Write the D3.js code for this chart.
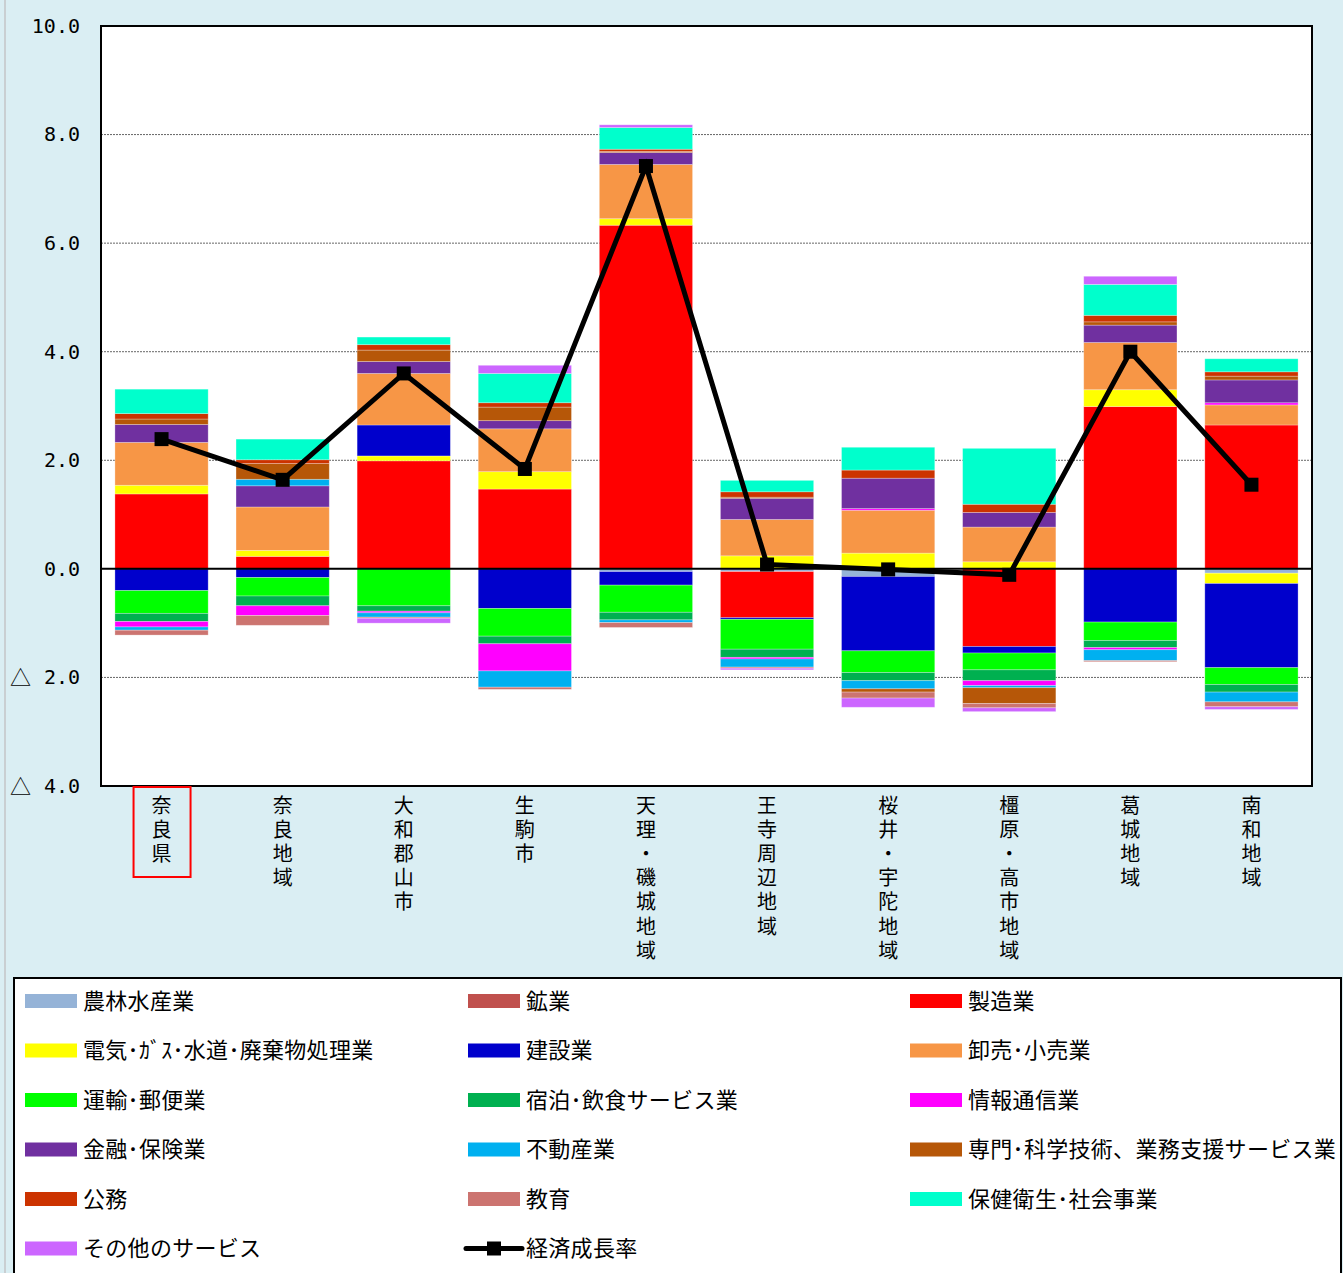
<!DOCTYPE html>
<html>
<head>
<meta charset="utf-8">
<script src="https://cdn.jsdelivr.net/npm/d3@7"></script>
<style>
  html, body { margin: 0; padding: 0; background: #DAEEF3; }
  svg { display: block; }
  .vlabel { writing-mode: vertical-rl; text-orientation: upright; }
</style>
</head>
<body>
<svg id="chart" width="1343" height="1273"></svg>
<script>
// 地域
const regions = ["奈良県", "奈良地域", "大和郡山市", "生駒市", "天理・磯城地域",
  "王寺周辺地域", "桜井・宇陀地域", "橿原・高市地域", "葛城地域", "南和地域"];

// 産業別寄与度（%）
const industries = ["農林水産業", "鉱業", "製造業", "電気･ｶﾞｽ･水道･廃棄物処理業", "建設業",
  "卸売･小売業", "運輸･郵便業", "宿泊･飲食サービス業", "情報通信業", "金融･保険業",
  "不動産業", "専門･科学技術、業務支援サービス業", "公務", "教育", "保健衛生･社会事業",
  "その他のサービス"];

const agriculture   = [0, 0, 0, 0, -0.05, -0.05, -0.14, 0, 0, -0.08];
const mining        = [0, 0, 0, 0, 0, 0, 0, 0, 0, 0];
const manufacturing = [1.38, 0.23, 1.99, 1.47, 6.33, -0.85, 0, -1.43, 2.99, 2.65];
const utilities     = [0.16, 0.11, 0.09, 0.32, 0.12, 0.24, 0.29, 0.13, 0.31, -0.19];
const construction  = [-0.40, -0.16, 0.57, -0.73, -0.25, -0.03, -1.37, -0.12, -0.98, -1.55];
const trade         = [0.79, 0.80, 0.95, 0.79, 1.00, 0.67, 0.79, 0.64, 0.87, 0.37];
const transport     = [-0.42, -0.34, -0.68, -0.51, -0.50, -0.55, -0.40, -0.31, -0.34, -0.31];
const hospitality   = [-0.15, -0.18, -0.10, -0.14, -0.14, -0.15, -0.15, -0.20, -0.13, -0.14];
const information   = [-0.10, -0.18, -0.03, -0.50, 0, -0.03, 0.03, -0.09, -0.04, 0.04];
const finance       = [0.33, 0.39, 0.22, 0.15, 0.22, 0.39, 0.56, 0.27, 0.32, 0.42];
const realEstate    = [-0.06, 0.12, -0.08, -0.30, -0.05, -0.15, -0.15, -0.04, -0.20, -0.18];
const professional  = [0.10, 0.29, 0.21, 0.25, 0.02, 0.02, -0.06, -0.29, 0.06, 0.07];
const publicAdmin   = [0.10, 0.07, 0.10, 0.08, 0.04, 0.10, 0.15, 0.15, 0.12, 0.08];
const education     = [-0.09, -0.18, -0.02, -0.04, -0.09, -0.02, -0.11, -0.08, -0.02, -0.09];
const health        = [0.45, 0.38, 0.14, 0.54, 0.40, 0.21, 0.42, 1.03, 0.57, 0.24];
const otherServices = [0, 0, -0.09, 0.15, 0.05, -0.03, -0.17, -0.07, 0.15, -0.05];

// 経済成長率（%）
const growthRate = [2.39, 1.64, 3.60, 1.84, 7.42, 0.08, -0.01, -0.11, 4.00, 1.55];

// 目盛
const yTicks = [-4, -2, 0, 2, 4, 6, 8, 10];

const seriesValues = [agriculture, mining, manufacturing, utilities, construction, trade,
  transport, hospitality, information, finance, realEstate, professional, publicAdmin,
  education, health, otherServices];

const colors = ["#95B3D7", "#C0504D", "#FF0000", "#FFFF00", "#0000CC", "#F79646",
  "#00FF00", "#00B050", "#FF00FF", "#7030A0", "#00B0F0", "#B65708", "#CC3300",
  "#CC7470", "#00FFCC", "#CC66FF"];

const svg = d3.select("#chart");
const W = 1343, H = 1273;

// 背景
svg.append("rect").attr("width", W).attr("height", H).attr("fill", "#DAEEF3");
svg.append("line").attr("x1", 5).attr("x2", 5).attr("y1", 0).attr("y2", H)
  .attr("stroke", "#c9cfd2").attr("stroke-width", 2);

const plot = { left: 101, right: 1312, top: 26, bottom: 786 };

const x = d3.scaleBand().domain(regions).range([plot.left, plot.right])
  .paddingInner(0.23).paddingOuter(0.115);
const y = d3.scaleLinear().domain([-4, 10]).range([plot.bottom, plot.top]);

svg.append("rect")
  .attr("x", plot.left).attr("y", plot.top)
  .attr("width", plot.right - plot.left).attr("height", plot.bottom - plot.top)
  .attr("fill", "#fff");

// 補助目盛線
svg.append("g").selectAll("line")
  .data(yTicks.filter(t => t !== 0 && t !== -4 && t !== 10))
  .join("line")
  .attr("x1", plot.left).attr("x2", plot.right)
  .attr("y1", d => y(d)).attr("y2", d => y(d))
  .attr("stroke", "#666").attr("stroke-width", 1).attr("stroke-dasharray", "2,1");

// 積み上げ棒
const table = regions.map((r, i) => {
  const row = { region: r };
  industries.forEach((k, j) => { row[k] = seriesValues[j][i]; });
  return row;
});
const stacked = d3.stack().keys(industries)
  .order(d3.stackOrderNone).offset(d3.stackOffsetDiverging)(table);

svg.append("g").selectAll("g")
  .data(stacked)
  .join("g")
  .attr("fill", (d, i) => colors[i])
  .selectAll("rect")
  .data(d => d)
  .join("rect")
  .attr("x", d => x(d.data.region))
  .attr("width", x.bandwidth())
  .attr("y", d => y(Math.max(d[0], d[1])))
  .attr("height", d => Math.abs(y(d[0]) - y(d[1])))
  .attr("stroke", "#ffffff").attr("stroke-opacity", 0.35).attr("stroke-width", 0.8);

// ゼロ線
svg.append("line")
  .attr("x1", plot.left).attr("x2", plot.right)
  .attr("y1", y(0)).attr("y2", y(0))
  .attr("stroke", "#000").attr("stroke-width", 2);

// 経済成長率
const cx = (d, i) => x(regions[i]) + x.bandwidth() / 2;
const line = d3.line().x((d, i) => cx(d, i)).y(d => y(d));
svg.append("path").datum(growthRate)
  .attr("d", line).attr("fill", "none")
  .attr("stroke", "#000").attr("stroke-width", 5).attr("stroke-linejoin", "miter");
svg.append("g").selectAll("rect")
  .data(growthRate)
  .join("rect")
  .attr("x", (d, i) => cx(d, i) - 7).attr("y", d => y(d) - 7)
  .attr("width", 14).attr("height", 14).attr("fill", "#000");

// 枠
svg.append("rect")
  .attr("x", plot.left).attr("y", plot.top)
  .attr("width", plot.right - plot.left).attr("height", plot.bottom - plot.top)
  .attr("fill", "none").attr("stroke", "#000").attr("stroke-width", 2);

// Y軸ラベル（負数は△表記）
const yAxis = d3.axisLeft(y).tickValues(yTicks).tickSize(0).tickPadding(21)
  .tickFormat(d => Math.abs(d).toFixed(1));
const yg = svg.append("g").attr("transform", `translate(${plot.left},0)`).call(yAxis);
yg.select(".domain").remove();
yg.selectAll("text")
  .attr("font-family", "'DejaVu Sans Mono', monospace")
  .attr("font-size", 20).attr("fill", "#000");
yg.selectAll(".tick").filter(d => d < 0).append("text")
  .attr("x", -70).attr("dy", "0.36em")
  .attr("font-family", "'Noto Sans CJK JP', sans-serif")
  .attr("font-size", 21).attr("fill", "#000")
  .text("△");

// 地域ラベル（縦書き）
svg.append("g").selectAll("text")
  .data(regions)
  .join("text")
  .attr("class", "vlabel")
  .attr("x", r => x(r) + x.bandwidth() / 2)
  .attr("y", 795)
  .attr("font-family", "'Noto Sans CJK JP', sans-serif")
  .attr("font-size", 20).attr("letter-spacing", 4.2).attr("fill", "#000")
  .text(r => r);
svg.append("rect")
  .attr("x", x(regions[0]) + x.bandwidth() / 2 - 28).attr("y", 787)
  .attr("width", 57).attr("height", 90)
  .attr("fill", "none").attr("stroke", "#FF0000").attr("stroke-width", 2);

// 凡例
svg.append("rect")
  .attr("x", 14).attr("y", 978).attr("width", 1327).attr("height", 300)
  .attr("fill", "#fff").attr("stroke", "#000").attr("stroke-width", 2);

const legendItems = industries.map((k, i) => ({ label: k, color: colors[i], type: "bar" }));
legendItems.push({ label: "経済成長率", type: "line" });
const colX = [25, 468, 910];
const rowY = [1001, 1050.5, 1100, 1149.5, 1199, 1248.5];

const lg = svg.append("g").selectAll("g")
  .data(legendItems)
  .join("g")
  .attr("transform", (d, i) => `translate(${colX[i % 3]},${rowY[Math.floor(i / 3)]})`);

lg.filter(d => d.type === "bar").append("rect")
  .attr("x", 0).attr("y", -7).attr("width", 52).attr("height", 14)
  .attr("fill", d => d.color);
const lineItems = lg.filter(d => d.type === "line");
lineItems.append("line")
  .attr("x1", -2).attr("x2", 54).attr("y1", 0).attr("y2", 0)
  .attr("stroke", "#000").attr("stroke-width", 5).attr("stroke-linecap", "round");
lineItems.append("rect")
  .attr("x", 19).attr("y", -7).attr("width", 14).attr("height", 14).attr("fill", "#000");

lg.append("text")
  .attr("x", 58).attr("y", 0).attr("dy", "0.36em")
  .attr("font-family", "'Noto Sans CJK JP', sans-serif")
  .attr("font-size", 22).attr("letter-spacing", 0.3).attr("fill", "#000")
  .text(d => d.label);
</script>
</body>
</html>
